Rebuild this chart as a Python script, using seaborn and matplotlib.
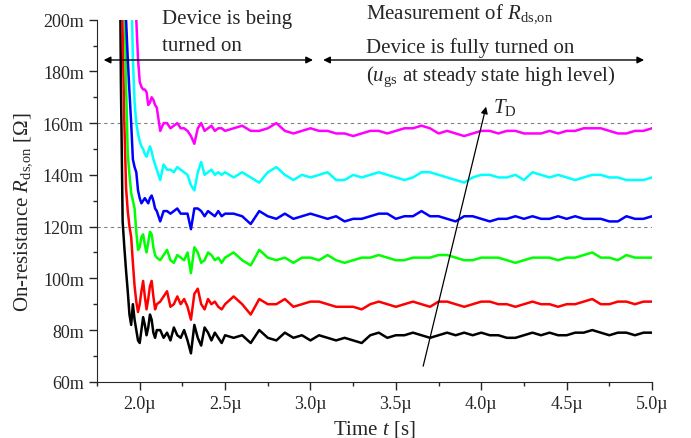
import numpy as np
import pandas as pd
import seaborn as sns
import matplotlib
matplotlib.use("Agg")
import matplotlib.pyplot as plt
from matplotlib.ticker import MultipleLocator, FuncFormatter

# time axis in microseconds
t_us = [1.88, 1.89, 1.90, 1.91, 1.92, 1.93, 1.94, 1.95, 1.96, 1.97,
        1.98, 1.99, 2.00, 2.01, 2.02, 2.03, 2.04, 2.05, 2.06, 2.07,
        2.08, 2.09, 2.10,
        2.12, 2.14, 2.16, 2.18, 2.20, 2.22, 2.24, 2.26, 2.28, 2.30,
        2.32, 2.34, 2.36, 2.38, 2.40, 2.42, 2.44, 2.46, 2.48, 2.50,
        2.55, 2.60, 2.65, 2.70, 2.75, 2.80, 2.85, 2.90, 2.95, 3.00,
        3.05, 3.10, 3.15, 3.20, 3.25, 3.30, 3.35, 3.40, 3.45, 3.50,
        3.55, 3.60, 3.65, 3.70, 3.75, 3.80, 3.85, 3.90, 3.95, 4.00,
        4.05, 4.10, 4.15, 4.20, 4.25, 4.30, 4.35, 4.40, 4.45, 4.50,
        4.55, 4.60, 4.65, 4.70, 4.75, 4.80, 4.85, 4.90, 4.95, 5.00]

# on-resistance in milliohm, one list per temperature
r_black = [260, 175, 122, 112, 103, 95, 86, 82, 90, 84, 80, 76, 75, 80, 85, 82, 78, 81, 86, 84, 79, 77, 80,
           80, 77, 79, 76, 81, 78, 77, 80, 76, 71, 82, 77, 74, 81, 79, 76, 79, 77, 75, 78,
           77, 78, 75, 80, 77, 76, 79, 77, 78, 76,
           78, 77, 76, 77, 76, 75, 78, 79, 77, 78,
           78, 79, 78, 77, 78, 79, 78, 79, 78, 79,
           78, 78, 77, 77, 78, 79, 78, 79, 78, 78,
           79, 79, 80, 79, 78, 79, 79, 78, 79, 79]
r_red = [260, 260, 195, 160, 135, 126, 120, 116, 106, 97, 91, 87, 90, 95, 99, 93, 88, 92, 97, 99, 93, 88, 90,
         91, 93, 95, 89, 90, 93, 90, 92, 89, 84, 94, 96, 90, 88, 92, 90, 91, 89, 88, 90,
         93, 90, 86, 92, 90, 90, 92, 89, 90, 91,
         91, 90, 89, 89, 89, 88, 90, 91, 90, 89,
         90, 91, 90, 89, 91, 91, 90, 89, 90, 91,
         91, 90, 90, 89, 90, 91, 90, 90, 89, 90,
         90, 91, 92, 90, 90, 91, 91, 90, 91, 91]
r_green = [260, 260, 260, 215, 175, 148, 140, 133, 130, 127, 118, 111, 112, 116, 117, 113, 110, 114, 118, 117, 112, 109, 108,
           107, 109, 111, 107, 106, 109, 108, 107, 110, 102, 112, 110, 106, 107, 110, 109, 107, 108, 106, 108,
           110, 107, 105, 111, 108, 107, 108, 106, 108, 108,
           107, 109, 107, 106, 107, 108, 108, 109, 108, 107,
           107, 108, 108, 108, 109, 109, 108, 107, 107, 108,
           108, 108, 107, 106, 107, 108, 108, 108, 107, 108,
           108, 109, 110, 108, 108, 107, 109, 108, 108, 108]
r_blue = [260, 260, 260, 240, 200, 185, 172, 160, 146, 143, 141, 134, 131, 129, 130, 131, 130, 129, 131, 132, 130, 127, 126,
          122, 126, 126, 125, 126, 127, 125, 125, 125, 119, 127, 127, 126, 124, 126, 125, 124, 126, 124, 125,
          125, 124, 121, 126, 124, 123, 125, 123, 124, 125,
          124, 123, 124, 122, 123, 123, 124, 125, 125, 123,
          124, 124, 126, 124, 124, 123, 122, 124, 124, 123,
          122, 123, 123, 124, 123, 124, 123, 123, 124, 123,
          124, 123, 123, 123, 122, 122, 124, 123, 123, 124]
r_cyan = [260, 260, 260, 260, 260, 260, 260, 215, 185, 168, 160, 156, 153, 151, 150, 148, 147, 149, 151, 149, 146, 144, 142,
          138, 144, 142, 142, 141, 143, 142, 141, 140, 136, 134, 141, 145, 140, 141, 142, 140, 141, 140, 141,
          139, 141, 139, 137, 141, 143, 140, 138, 140, 139,
          140, 141, 138, 138, 140, 139, 140, 141, 140, 139,
          138, 139, 141, 141, 140, 139, 138, 137, 139, 140,
          140, 139, 139, 140, 138, 141, 140, 139, 140, 139,
          138, 139, 140, 140, 139, 139, 138, 138, 138, 139]
r_magenta = [260, 260, 260, 260, 260, 260, 260, 260, 260, 230, 200, 185, 176, 174, 173, 173, 172, 167, 168, 170, 169, 167, 166,
             157, 160, 160, 158, 159, 160, 158, 158, 157, 155, 152, 158, 160, 157, 158, 159, 157, 158, 158, 157,
             158, 159, 157, 157, 158, 160, 157, 156, 157, 158,
             157, 157, 156, 156, 155, 156, 157, 157, 156, 157,
             158, 158, 159, 158, 156, 157, 156, 155, 156, 157,
             157, 156, 157, 157, 156, 156, 156, 157, 156, 157,
             157, 158, 158, 158, 157, 156, 156, 157, 157, 158]

curve_names = ["black", "red", "green", "blue", "cyan", "magenta"]
curve_colors = ["#000000", "#ff0000", "#00ff00", "#0000ff", "#00ffff", "#ff00ff"]
series = [r_black, r_red, r_green, r_blue, r_cyan, r_magenta]

frames = []
for name, vals in zip(curve_names, series):
    frames.append(pd.DataFrame({"t": t_us, "R": vals, "curve": name}))
df = pd.concat(frames, ignore_index=True)

sns.set_style("ticks")
plt.rcParams['font.family'] = ['Liberation Serif', 'DejaVu Serif']
plt.rcParams['mathtext.fontset'] = 'custom'
plt.rcParams['mathtext.rm'] = 'Liberation Serif'
plt.rcParams['mathtext.it'] = 'Liberation Serif:italic'

fig = plt.figure(figsize=(6.91, 4.39), dpi=100)
ax = fig.add_axes([0.1404, 0.128, 0.8032, 0.825])

sns.lineplot(data=df, x="t", y="R", hue="curve", hue_order=curve_names,
             palette=dict(zip(curve_names, curve_colors)), legend=False,
             estimator=None, sort=False, linewidth=1.8, ax=ax)

ax.set_xlim(1.75, 5.0)
ax.set_ylim(60, 200)
ax.xaxis.set_major_locator(MultipleLocator(0.5))
ax.xaxis.set_minor_locator(MultipleLocator(0.25))
ax.yaxis.set_major_locator(MultipleLocator(20))
ax.yaxis.set_minor_locator(MultipleLocator(10))
ax.xaxis.set_major_formatter(FuncFormatter(lambda v, p: f"{v:.1f}\u00b5"))
ax.yaxis.set_major_formatter(FuncFormatter(lambda v, p: f"{int(round(v))}m"))
ax.tick_params(which="major", direction="out", length=6, width=1, labelsize=13)
ax.tick_params(which="minor", direction="out", length=3, width=1)
sns.despine(ax=ax)

for yv in [120, 160]:
    ax.axhline(yv, color="gray", lw=0.8, ls=(0, (3, 3)), zorder=0)

ax.set_xlabel("Time $t$ [s]", fontsize=15)
ax.set_ylabel(r"On-resistance $R_{\mathrm{ds{,}on}}$ [$\Omega$]", fontsize=15)
ax.yaxis.set_label_coords(-0.113, 0.47)
ax.xaxis.set_label_coords(0.5, -0.1)

# phase arrows
arrow_kw = dict(arrowstyle="<|-|>", color="black", lw=1, mutation_scale=10)
ax.annotate("", xy=(1.773, 184.4), xytext=(3.031, 184.4), arrowprops=arrow_kw)
ax.annotate("", xy=(3.058, 184.4), xytext=(4.97, 184.4), arrowprops=arrow_kw)

ax.text(2.132, 198.7, "Device is being", fontsize=15, va="baseline", clip_on=False)
ax.text(2.132, 188.4, "turned on", fontsize=15, va="baseline", clip_on=False)
ax.text(3.327, 200.9, r"Measurement of $R_{\mathrm{ds{,}on}}$", fontsize=15, va="baseline", clip_on=False)
ax.text(3.327, 187.4, "Device is fully turned on", fontsize=15, va="baseline", clip_on=False)
ax.text(3.327, 176.7, r"($u_{\mathrm{gs}}$ at steady state high level)", fontsize=15, va="baseline", clip_on=False)

# temperature arrow
ax.annotate("", xy=(4.032, 167.4), xytext=(3.656, 65.0),
            arrowprops=dict(arrowstyle="-|>", color="black", lw=0.9, mutation_scale=10))
ax.text(4.066, 164.3, r"$T_{\mathrm{D}}$", fontsize=15, va="baseline")

plt.savefig("out.png", dpi=100)
